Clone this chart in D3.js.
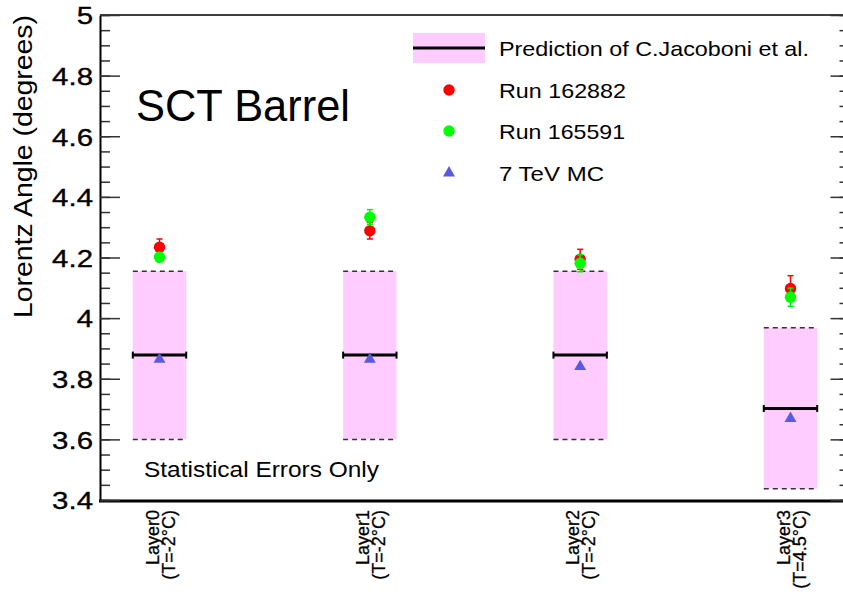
<!DOCTYPE html>
<html>
<head>
<meta charset="utf-8">
<script src="https://cdn.jsdelivr.net/npm/d3@7/dist/d3.min.js"></script>
<style>
  html, body { margin: 0; padding: 0; background: #ffffff; }
  svg { display: block; font-family: "Liberation Sans", Arial, Helvetica, sans-serif; }
</style>
</head>
<body>
<svg id="chart" width="843" height="594"></svg>
<script>
// Layers of the SCT barrel and their operating temperatures
const layers = ["Layer0", "Layer1", "Layer2", "Layer3"];
const temperatures = ["(T=-2°C)", "(T=-2°C)", "(T=-2°C)", "(T=4.5°C)"];

// Prediction of C.Jacoboni et al. (central value and band)
const predCentre = [3.878, 3.878, 3.878, 3.702];
const predLow    = [3.600, 3.600, 3.600, 3.437];
const predHigh   = [4.155, 4.155, 4.155, 3.968];

// Measured Lorentz angles (degrees) with statistical errors
const run162882    = [4.234, 4.288, 4.194, 4.098];
const run162882Err = [0.027, 0.027, 0.033, 0.042];
const run165591    = [4.201, 4.333, 4.181, 4.069];
const run165591Err = [0.015, 0.025, 0.028, 0.030];

// 7 TeV Monte Carlo
const mc7TeV = [3.864, 3.864, 3.840, 3.669];

// Axis
const yTicks = [3.4, 3.6, 3.8, 4.0, 4.2, 4.4, 4.6, 4.8, 5.0];
const yTickLabels = ["3.4", "3.6", "3.8", "4", "4.2", "4.4", "4.6", "4.8", "5"];
const yMinorTicks = d3.range(68, 101).map(v => v / 20);

const svg = d3.select("#chart");
const frameLeft = 100, frameRight = 843.5, frameTop = 15, frameBottom = 500;

const y = d3.scaleLinear().domain([3.4, 5]).range([frameBottom, frameTop]);
const x = d3.scalePoint().domain(layers).range([159.5, 790.5]);
const halfW = x.step() * 0.127;

const FONT = "'Liberation Sans', Arial, Helvetica, sans-serif";

// ---------- prediction bands ----------
const bands = svg.append("g");
layers.forEach((L, i) => {
  const cx = x(L);
  bands.append("rect")
    .attr("x", cx - halfW).attr("width", 2 * halfW)
    .attr("y", y(predHigh[i])).attr("height", y(predLow[i]) - y(predHigh[i]))
    .attr("fill", "#ffccff");
  [predHigh[i], predLow[i]].forEach(v => {
    bands.append("line")
      .attr("x1", cx - halfW).attr("x2", cx + halfW)
      .attr("y1", y(v)).attr("y2", y(v))
      .attr("stroke", "#333").attr("stroke-width", 1.5)
      .attr("stroke-dasharray", "5,4");
  });
  bands.append("line")
    .attr("x1", cx - halfW).attr("x2", cx + halfW)
    .attr("y1", y(predCentre[i])).attr("y2", y(predCentre[i]))
    .attr("stroke", "#000").attr("stroke-width", 3);
  [cx - halfW, cx + halfW].forEach(ex => {
    bands.append("line")
      .attr("x1", ex).attr("x2", ex)
      .attr("y1", y(predCentre[i]) - 3.5).attr("y2", y(predCentre[i]) + 3.5)
      .attr("stroke", "#000").attr("stroke-width", 2);
  });
});

// ---------- frame and axes ----------
svg.append("line").attr("x1", frameLeft).attr("x2", frameRight).attr("y1", frameTop).attr("y2", frameTop)
  .attr("stroke", "#000").attr("stroke-width", 1.5);
svg.append("line").attr("x1", frameLeft - 1).attr("x2", frameRight).attr("y1", frameBottom + 1).attr("y2", frameBottom + 1)
  .attr("stroke", "#000").attr("stroke-width", 3);

const gMinor = svg.append("g").attr("transform", `translate(${frameLeft},0)`)
  .call(d3.axisLeft(y).tickValues(yMinorTicks).tickSize(-10).tickSizeOuter(0).tickFormat(""));
gMinor.select(".domain").remove();
gMinor.selectAll("line").attr("stroke", "#333").attr("stroke-width", 1.5);

const gLeft = svg.append("g").attr("transform", `translate(${frameLeft},0)`)
  .call(d3.axisLeft(y).tickValues(yTicks).tickSize(-20).tickSizeOuter(0).tickPadding(7)
    .tickFormat((d, i) => yTickLabels[i]));
gLeft.select(".domain").attr("stroke", "#000").attr("stroke-width", 2);
gLeft.selectAll(".tick line").attr("stroke", "#333").attr("stroke-width", 1.5);
gLeft.selectAll(".tick text")
  .attr("font-family", FONT).attr("font-size", 24.5).attr("fill", "#000")
  .attr("stroke", "#000").attr("stroke-width", 0.35)
  .attr("dy", "0.36em")
  .each(function () {
    const w = this.getComputedTextLength();
    d3.select(this).attr("textLength", w * 1.2).attr("lengthAdjust", "spacingAndGlyphs");
  });

const gRMinor = svg.append("g").attr("transform", `translate(${frameRight},0)`)
  .call(d3.axisRight(y).tickValues(yMinorTicks).tickSize(-4).tickSizeOuter(0).tickFormat(""));
gRMinor.select(".domain").remove();
gRMinor.selectAll("line").attr("stroke", "#333").attr("stroke-width", 1.5);
const gRight = svg.append("g").attr("transform", `translate(${frameRight},0)`)
  .call(d3.axisRight(y).tickValues(yTicks).tickSize(-13).tickSizeOuter(0).tickFormat(""));
gRight.select(".domain").attr("stroke", "#000").attr("stroke-width", 2);
gRight.selectAll("line").attr("stroke", "#333").attr("stroke-width", 1.5);

// category labels (rotated, two lines)
layers.forEach((L, i) => {
  const cx = x(L);
  svg.append("text")
    .attr("transform", `translate(${cx - 1},510) rotate(-90)`)
    .attr("text-anchor", "end").attr("font-family", FONT).attr("font-size", 18)
    .attr("stroke", "#000").attr("stroke-width", 0.3)
    .text(L);
  svg.append("text")
    .attr("transform", `translate(${cx + 15},510) rotate(-90)`)
    .attr("text-anchor", "end").attr("font-family", FONT).attr("font-size", 18)
    .attr("stroke", "#000").attr("stroke-width", 0.3)
    .text(temperatures[i]);
});

// y axis title
svg.append("text")
  .attr("transform", "translate(32,15) rotate(-90)")
  .attr("text-anchor", "end").attr("font-family", FONT).attr("font-size", 25)
  .attr("textLength", 303).attr("lengthAdjust", "spacingAndGlyphs")
  .text("Lorentz Angle (degrees)");

// ---------- data markers ----------
function errorBars(values, errs, colour) {
  const g = svg.append("g").attr("stroke", colour).attr("stroke-width", 1.5);
  values.forEach((v, i) => {
    const cx = x(layers[i]);
    g.append("line").attr("x1", cx).attr("x2", cx)
      .attr("y1", y(v + errs[i])).attr("y2", y(v - errs[i]));
    [v + errs[i], v - errs[i]].forEach(e => {
      g.append("line").attr("x1", cx - 3).attr("x2", cx + 3)
        .attr("y1", y(e)).attr("y2", y(e));
    });
  });
}
function circles(values, colour) {
  svg.append("g").selectAll("circle").data(values).join("circle")
    .attr("cx", (d, i) => x(layers[i])).attr("cy", d => y(d))
    .attr("r", 5.7).attr("fill", colour);
}

const triangle = d3.symbol().type(d3.symbolTriangle).size(62);
svg.append("g").selectAll("path").data(mc7TeV).join("path")
  .attr("d", triangle)
  .attr("transform", (d, i) => `translate(${x(layers[i])},${y(d)})`)
  .attr("fill", "#5a5adb");

errorBars(run162882, run162882Err, "#ff0000");
circles(run162882, "#ff0000");
errorBars(run165591, run165591Err, "#00ee00");
circles(run165591, "#00ff00");

// ---------- texts ----------
svg.append("text").attr("x", 136).attr("y", 121)
  .attr("font-family", FONT).attr("font-size", 45)
  .attr("textLength", 214).attr("lengthAdjust", "spacingAndGlyphs")
  .text("SCT Barrel");

svg.append("text").attr("x", 144).attr("y", 477)
  .attr("font-family", FONT).attr("font-size", 22)
  .attr("textLength", 235).attr("lengthAdjust", "spacingAndGlyphs")
  .text("Statistical Errors Only");

// ---------- legend ----------
const legend = svg.append("g");
legend.append("rect").attr("x", 413).attr("y", 33).attr("width", 72).attr("height", 30)
  .attr("fill", "#ffccff");
legend.append("line").attr("x1", 413).attr("x2", 485).attr("y1", 48).attr("y2", 48)
  .attr("stroke", "#000").attr("stroke-width", 3);
legend.append("circle").attr("cx", 449).attr("cy", 90).attr("r", 5.7).attr("fill", "#ff0000");
legend.append("circle").attr("cx", 449).attr("cy", 131).attr("r", 5.7).attr("fill", "#00ff00");
legend.append("path").attr("d", triangle).attr("transform", "translate(449,173)").attr("fill", "#5a5adb");

const legendItems = [
  { text: "Prediction of C.Jacoboni et al.", y: 56, w: 310 },
  { text: "Run 162882", y: 97.5, w: 127 },
  { text: "Run 165591", y: 139, w: 126 },
  { text: "7 TeV MC", y: 181, w: 105 }
];
legend.selectAll("text.item").data(legendItems).join("text")
  .attr("class", "item")
  .attr("x", 499).attr("y", d => d.y)
  .attr("font-family", FONT).attr("font-size", 21)
  .attr("textLength", d => d.w).attr("lengthAdjust", "spacingAndGlyphs")
  .text(d => d.text);
</script>
</body>
</html>
